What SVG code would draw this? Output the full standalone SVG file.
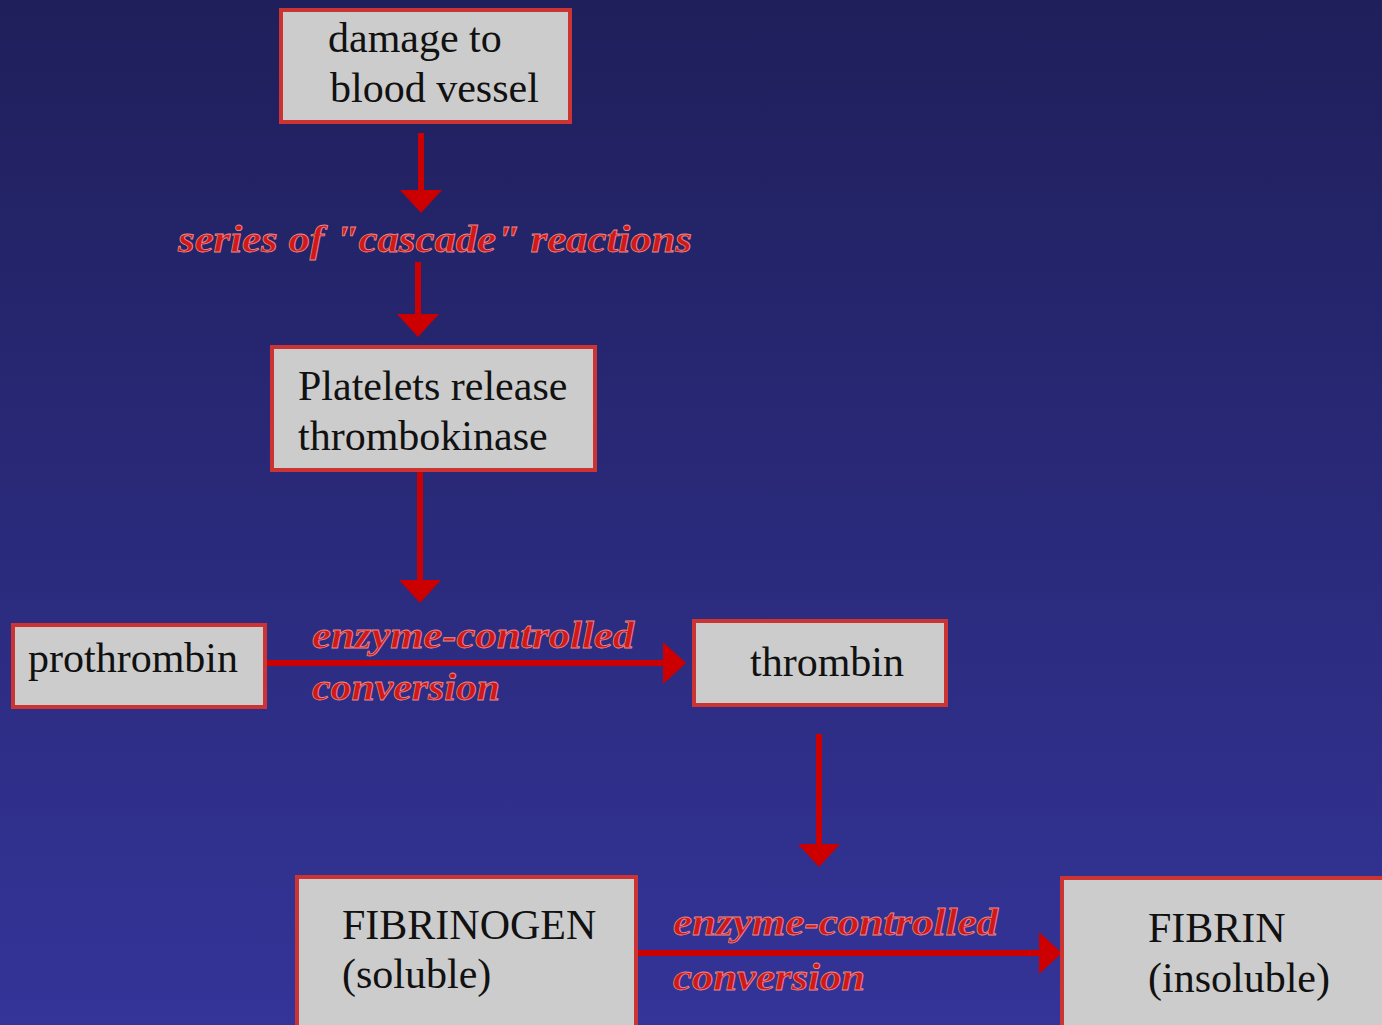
<svg xmlns="http://www.w3.org/2000/svg" width="1382" height="1025" viewBox="0 0 1382 1025">
<style>
.box rect{fill:#cccccc;stroke:#cc3333;stroke-width:4}
.t{font-family:"Liberation Serif","Times New Roman",serif;font-size:42px;fill:#111111}
.lbl{font-family:"Liberation Serif","Times New Roman",serif;font-size:38px;font-style:italic;font-weight:bold;fill:#d01818;stroke:#e88a8a;stroke-width:0.8}
.conn line{stroke:#cc0000;stroke-width:6}
</style>
<defs>
<linearGradient id="bg" x1="0" y1="0" x2="0" y2="1">
<stop offset="0" stop-color="#1f1f5b"/>
<stop offset="1" stop-color="#343499"/>
</linearGradient>
<marker id="ah" markerUnits="userSpaceOnUse" viewBox="0 0 23 42" refX="1" refY="21" markerWidth="23" markerHeight="42" orient="auto">
<path d="M0,0 L23,21 L0,42 z" fill="#cc0000"/>
</marker>
</defs>
<rect x="0" y="0" width="1382" height="1025" fill="url(#bg)"/>

<g id="connectors" class="conn">
<line x1="421" y1="133" x2="421" y2="191" marker-end="url(#ah)"/>
<line x1="418" y1="262" x2="418" y2="315" marker-end="url(#ah)"/>
<line x1="420" y1="471" x2="420" y2="581" marker-end="url(#ah)"/>
<line x1="819" y1="734" x2="819" y2="845" marker-end="url(#ah)"/>
<line x1="266" y1="663" x2="664" y2="663" marker-end="url(#ah)"/>
<line x1="637" y1="953" x2="1040" y2="953" marker-end="url(#ah)"/>
</g>

<g id="labels">
<text class="lbl" x="178" y="252" textLength="514" lengthAdjust="spacingAndGlyphs">series of "cascade" reactions</text>
<text class="lbl" x="312" y="648" textLength="322" lengthAdjust="spacingAndGlyphs">enzyme-controlled</text>
<text class="lbl" x="312" y="700" textLength="188" lengthAdjust="spacingAndGlyphs">conversion</text>
<text class="lbl" x="673" y="935" textLength="325" lengthAdjust="spacingAndGlyphs">enzyme-controlled</text>
<text class="lbl" x="673" y="990" textLength="192" lengthAdjust="spacingAndGlyphs">conversion</text>
</g>

<g id="damage" class="box">
<rect x="281" y="10" width="289" height="112"/>
<text class="t" x="328" y="52">damage to</text>
<text class="t" x="330" y="102">blood vessel</text>
</g>

<g id="platelets" class="box">
<rect x="272" y="347" width="323" height="123"/>
<text class="t" x="298" y="400">Platelets release</text>
<text class="t" x="298" y="450">thrombokinase</text>
</g>

<g id="prothrombin" class="box">
<rect x="13" y="625" width="252" height="82"/>
<text class="t" x="28" y="672">prothrombin</text>
</g>

<g id="thrombin" class="box">
<rect x="694" y="621" width="252" height="84"/>
<text class="t" x="750" y="676">thrombin</text>
</g>

<g id="fibrinogen" class="box">
<rect x="297" y="877" width="339" height="160"/>
<text class="t" x="342" y="939">FIBRINOGEN</text>
<text class="t" x="342" y="988">(soluble)</text>
</g>

<g id="fibrin" class="box">
<rect x="1062" y="878" width="330" height="160"/>
<text class="t" x="1148" y="942">FIBRIN</text>
<text class="t" x="1148" y="992">(insoluble)</text>
</g>
</svg>
